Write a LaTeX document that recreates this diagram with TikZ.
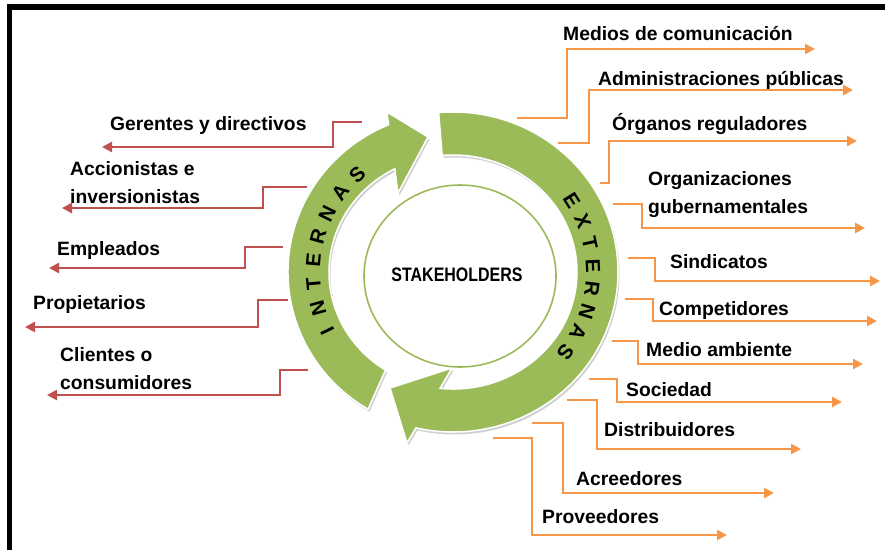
\documentclass[tikz,border=0pt]{standalone}
\usepackage{fontspec}
\setmainfont{Liberation Sans}
\newfontfamily\narrowfont{Liberation Sans}[FakeStretch=0.82]
\usetikzlibrary{arrows.meta}
\definecolor{ringgreen}{HTML}{9BBB59}
\definecolor{intred}{HTML}{C0504D}
\definecolor{extorange}{HTML}{F79646}

\begin{document}
\begin{tikzpicture}
    [
    x=1pt, y=1pt,
    lbl/.style={
        font=\fontsize{19.3}{28}\selectfont\bfseries,
        anchor=base west,
        inner sep=0pt,
        align=left % align is needed for the two-line labels
    },
    intlink/.style={
        draw=intred,
        line width=2.8pt,
        -{Triangle[length=10pt,width=10pt]}
    },
    extlink/.style={
        draw=extorange,
        line width=2.8pt,
        -{Triangle[length=10pt,width=10pt]}
    },
    ring/.style={
        fill=ringgreen,
        draw=white,
        line width=1.5pt,
        preaction={fill=black!18, transform canvas={shift={(1.5pt,-2.5pt)}}}
    },
    ringletter/.style={
        font=\fontsize{20.5}{20.5}\selectfont\bfseries,
        inner sep=0pt
    },
    ]

    \useasboundingbox (0,0) rectangle (885,-550);
    \draw [line width=5.5pt, line join=miter] (9.5,-550) -- (9.5,-7) -- (885,-7);

    % the two circular arrows
    \begin{scope}[shift={(453,-272)}]
        \draw [ring] (239:165 and 160)
            arc[start angle=239, end angle=113, x radius=165, y radius=160]
            -- (-66,160) -- (-25,135) -- (-55,79)
            -- (118:124 and 117)
            arc[start angle=118, end angle=237, x radius=124, y radius=117]
            -- cycle;
        \draw [ring] (95:165 and 160)
            arc[start angle=95, end angle=-103, x radius=165, y radius=160]
            -- (-46,-171) -- (-63,-116) -- (-1,-96)
            -- (-96:124 and 117)
            arc[start angle=-96, end angle=95, x radius=124, y radius=117]
            -- cycle;

        \draw [ringgreen, line width=1.6pt, fill=white] (7,-4) ellipse [x radius=96, y radius=91];
        \node [font=\narrowfont\fontsize{19.5}{20}\selectfont\bfseries] (stake) at (4,-3) {STAKEHOLDERS};

        \foreach \l [count=\i] in {I,N,T,E,R,N,A,S}
            \node [ringletter, rotate={206-(\i-1)*10.4-90}] (int\i) at ({206-(\i-1)*10.4}:140 and 134) {\l};
        \foreach \l [count=\i] in {E,X,T,E,R,N,A,S}
            \node [ringletter, rotate={32-(\i-1)*9.8-90}] (ext\i) at ({32-(\i-1)*9.8}:140 and 134) {\l};
    \end{scope}

    % internal stakeholders
    \draw (110,-130) node[lbl] (gerentes) {Gerentes y directivos};
    \draw (70,-203) node[lbl] (accionistas) {Accionistas e\\inversionistas};
    \draw (57,-255) node[lbl] (empleados) {Empleados};
    \draw (33,-309) node[lbl] (propietarios) {Propietarios};
    \draw (60,-389) node[lbl] (clientes) {Clientes o\\consumidores};

    \coordinate (gerentes-s) at (362,-122);
    \coordinate (gerentes-e) at (102,-147);
    \coordinate (accionistas-s) at (307,-187);
    \coordinate (accionistas-e) at (62,-208);
    \coordinate (empleados-s) at (283,-247);
    \coordinate (empleados-e) at (49,-268);
    \coordinate (propietarios-s) at (288,-300);
    \coordinate (propietarios-e) at (25,-327);
    \coordinate (clientes-s) at (308,-370);
    \coordinate (clientes-e) at (47,-395);

    \draw [intlink] (gerentes-s) -- ++(-29,0) |- (gerentes-e);
    \draw [intlink] (accionistas-s) -- ++(-44,0) |- (accionistas-e);
    \draw [intlink] (empleados-s) -- ++(-38,0) |- (empleados-e);
    \draw [intlink] (propietarios-s) -- ++(-30,0) |- (propietarios-e);
    \draw [intlink] (clientes-s) -- ++(-28,0) |- (clientes-e);

    % external stakeholders
    \draw (563,-40) node[lbl] (medios) {Medios de comunicación};
    \draw (598,-85) node[lbl] (admin) {Administraciones públicas};
    \draw (612,-130) node[lbl] (organos) {Órganos reguladores};
    \draw (648,-213) node[lbl] (organiz) {Organizaciones\\gubernamentales};
    \draw (670,-268) node[lbl] (sindicatos) {Sindicatos};
    \draw (659,-315) node[lbl] (competidores) {Competidores};
    \draw (646,-356) node[lbl] (ambiente) {Medio ambiente};
    \draw (626,-396) node[lbl] (sociedad) {Sociedad};
    \draw (604,-436) node[lbl] (distrib) {Distribuidores};
    \draw (576,-485) node[lbl] (acreedores) {Acreedores};
    \draw (542,-523) node[lbl] (proveedores) {Proveedores};

    \coordinate (medios-s) at (517,-118);
    \coordinate (medios-e) at (815,-49);
    \coordinate (admin-s) at (558,-143);
    \coordinate (admin-e) at (853,-90);
    \coordinate (organos-s) at (600,-183);
    \coordinate (organos-e) at (857,-141);
    \coordinate (organiz-s) at (613,-204);
    \coordinate (organiz-e) at (865,-228);
    \coordinate (sindicatos-s) at (628,-258);
    \coordinate (sindicatos-e) at (880,-281);
    \coordinate (competidores-s) at (625,-299);
    \coordinate (competidores-e) at (877,-321);
    \coordinate (ambiente-s) at (612,-341);
    \coordinate (ambiente-e) at (863,-364);
    \coordinate (sociedad-s) at (589,-379);
    \coordinate (sociedad-e) at (842,-402);
    \coordinate (distrib-s) at (567,-400);
    \coordinate (distrib-e) at (801,-449);
    \coordinate (acreedores-s) at (532,-423);
    \coordinate (acreedores-e) at (774,-493);
    \coordinate (proveedores-s) at (493,-438);
    \coordinate (proveedores-e) at (727,-535);

    \draw [extlink] (medios-s) -- ++(50,0) |- (medios-e);
    \draw [extlink] (admin-s) -- ++(31,0) |- (admin-e);
    \draw [extlink] (organos-s) -- ++(9,0) |- (organos-e);
    \draw [extlink] (organiz-s) -- ++(29,0) |- (organiz-e);
    \draw [extlink] (sindicatos-s) -- ++(27,0) |- (sindicatos-e);
    \draw [extlink] (competidores-s) -- ++(28,0) |- (competidores-e);
    \draw [extlink] (ambiente-s) -- ++(26,0) |- (ambiente-e);
    \draw [extlink] (sociedad-s) -- ++(28,0) |- (sociedad-e);
    \draw [extlink] (distrib-s) -- ++(30,0) |- (distrib-e);
    \draw [extlink] (acreedores-s) -- ++(31,0) |- (acreedores-e);
    \draw [extlink] (proveedores-s) -- ++(39,0) |- (proveedores-e);

\end{tikzpicture}
\end{document}
